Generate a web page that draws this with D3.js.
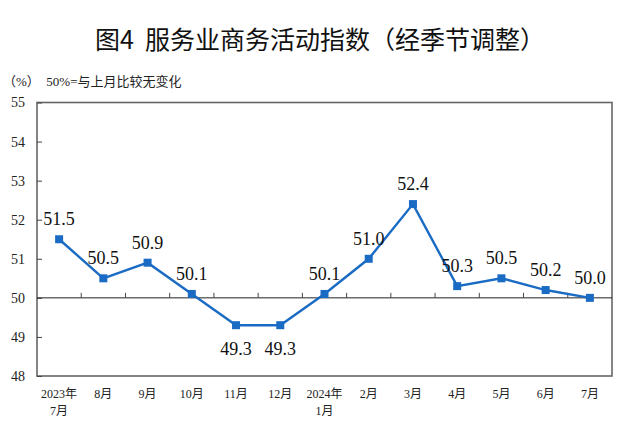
<!DOCTYPE html>
<html>
<head>
<meta charset="utf-8">
<script src="https://cdn.jsdelivr.net/npm/d3@7"></script>
<style>
  body { margin: 0; background: #fff; }
  svg { display: block; }
</style>
</head>
<body>
<svg id="chart"></svg>
<script>
// months (two-line labels) and index values
var months = ["2023年|7月", "8月", "9月", "10月", "11月", "12月", "2024年|1月", "2月", "3月", "4月", "5月", "6月", "7月"];
var values = [51.5, 50.5, 50.9, 50.1, 49.3, 49.3, 50.1, 51.0, 52.4, 50.3, 50.5, 50.2, 50.0];
var yTicks = [48, 49, 50, 51, 52, 53, 54, 55];
// label above (-1) or below (1) the point
var labelSide = [-1, -1, -1, -1, 1, 1, -1, -1, -1, -1, -1, -1, -1];

var W = 640, H = 446;
var margin = { top: 102.5, right: 28, bottom: 70, left: 37 };
var width = W - margin.left - margin.right;
var height = H - margin.top - margin.bottom;

var svg = d3.select("#chart").attr("width", W).attr("height", H);

// title
svg.append("text")
    .attr("x", 320).attr("y", 49)
    .attr("text-anchor", "middle")
    .attr("xml:space", "preserve")
    .style("white-space", "pre")
    .style("font-family", "'Noto Sans CJK SC', sans-serif")
    .style("font-size", "25px")
    .attr("fill", "#111")
    .text("图4  服务业商务活动指数（经季节调整）");

svg.append("text")
    .attr("x", 3).attr("y", 86)
    .style("white-space", "pre")
    .style("font-family", "'Liberation Serif', 'Noto Sans CJK SC', serif")
    .style("font-size", "13px")
    .attr("fill", "#222")
    .text("（%）  50%=与上月比较无变化");

var g = svg.append("g").attr("transform", `translate(${margin.left},${margin.top})`);

var x = d3.scaleBand().domain(months).range([0, width]);
var y = d3.scaleLinear().domain([48, 55]).range([height, 0]);

// frame
g.append("rect")
    .attr("x", 0).attr("y", 0)
    .attr("width", width).attr("height", height)
    .attr("fill", "none")
    .attr("stroke", "#666")
    .attr("stroke-width", 1.6);

// y axis ticks inside the frame
var yAxis = g.append("g")
    .call(d3.axisLeft(y).tickValues(yTicks).tickSize(-5).tickPadding(12).tickFormat(d3.format("d")));
yAxis.select(".domain").remove();
yAxis.selectAll("line").attr("stroke", "#444");
yAxis.selectAll("text")
    .style("font-family", "'Liberation Serif', serif")
    .style("font-size", "14px")
    .attr("fill", "#222");

// baseline at 50 with upward ticks at the band edges
g.append("line")
    .attr("x1", 0).attr("x2", width)
    .attr("y1", y(50)).attr("y2", y(50))
    .attr("stroke", "#222").attr("stroke-width", 1);

g.selectAll(".xtick")
    .data(months.slice(1))
    .enter().append("line")
    .attr("x1", d => x(d)).attr("x2", d => x(d))
    .attr("y1", y(50)).attr("y2", y(50) - 5)
    .attr("stroke", "#444");

// x labels below the frame
var xl = g.selectAll(".xlab")
    .data(months)
    .enter().append("text")
    .attr("text-anchor", "middle")
    .attr("transform", d => `translate(${x(d) + x.bandwidth() / 2},${height + 22})`)
    .style("font-family", "'Liberation Serif', 'Noto Sans CJK SC', serif")
    .style("font-size", "12px")
    .attr("fill", "#222");
xl.each(function (d) {
    var parts = d.split("|");
    var t = d3.select(this);
    parts.forEach(function (p, i) {
        t.append("tspan").attr("x", 0).attr("dy", i === 0 ? 0 : 17).text(p);
    });
});

var cx = (d, i) => x(months[i]) + x.bandwidth() / 2;

// line
g.append("path")
    .datum(values)
    .attr("fill", "none")
    .attr("stroke", "#1a6bc4")
    .attr("stroke-width", 2.4)
    .attr("d", d3.line().x(cx).y(d => y(d)));

// markers
g.selectAll(".pt")
    .data(values)
    .enter().append("rect")
    .attr("x", (d, i) => cx(d, i) - 4)
    .attr("y", d => y(d) - 4)
    .attr("width", 8).attr("height", 8)
    .attr("fill", "#1a6bc4");

// value labels
g.selectAll(".val")
    .data(values)
    .enter().append("text")
    .attr("x", cx)
    .attr("y", (d, i) => labelSide[i] < 0 ? y(d) - 14 : y(d) + 30)
    .attr("text-anchor", "middle")
    .style("font-family", "'Liberation Serif', serif")
    .style("font-size", "18px")
    .attr("fill", "#111")
    .text(d => d.toFixed(1));
</script>
</body>
</html>
